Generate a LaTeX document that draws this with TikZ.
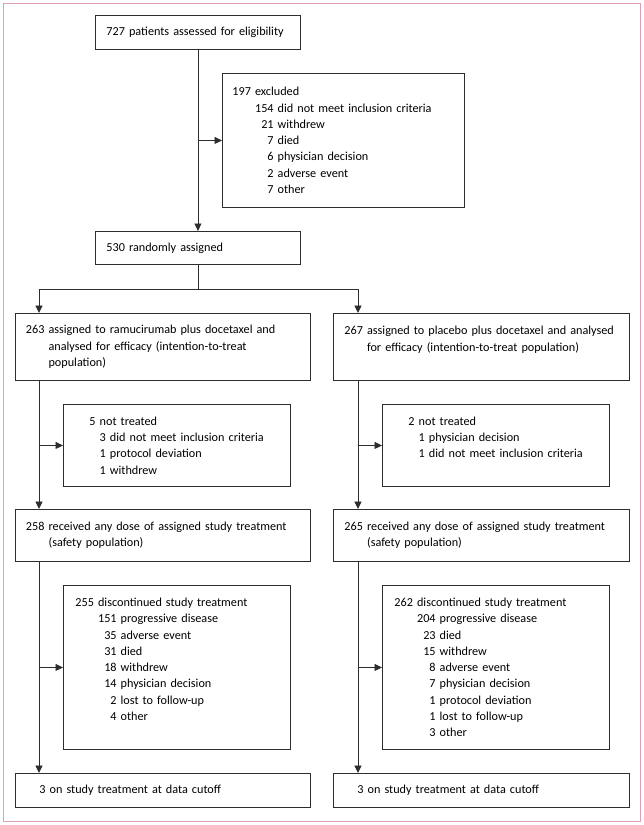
\documentclass[tikz,border=0pt]{standalone}
\usepackage{fontspec}
\setmainfont{Carlito}
\usetikzlibrary{arrows.meta}

\definecolor{framepink}{RGB}{222, 160, 182}
\definecolor{linegray}{RGB}{45, 45, 45}

% indent a line by the width of the leading number
\newcommand{\ind}[1]{\hphantom{#1}\ }

\tikzset{
  flowbox/.style={draw=linegray, line width=0.9pt, anchor=north west, align=left,
    inner ysep=3pt, font=\fontsize{12.2}{16.3}\selectfont},
  flowarrow/.style={draw=linegray, line width=0.9pt, -{Triangle[length=7.5pt,width=7pt]}},
  flowline/.style={draw=linegray, line width=0.9pt}
}

\begin{document}
\begin{tikzpicture}[x=1pt, y=-1pt]

\useasboundingbox (0,0) rectangle (644,825);

% Frame
\draw[framepink, line width=1.5pt] (3.5,3.5) rectangle (640.5,821.5);

% Enrolment
\node[flowbox, inner xsep=11pt, text width=183pt, minimum height=34pt] (screen) at (95,15) {\mbox{727 patients assessed for eligibility}};
\node[flowbox, inner xsep=10pt, text width=222pt, minimum height=134pt] (excl) at (222,73) {197 excluded\\
\ind{197}154 did not meet inclusion criteria\\
\ind{197}\hphantom{0}21 withdrew\\
\ind{197}\hphantom{00}7 died\\
\ind{197}\hphantom{00}6 physician decision\\
\ind{197}\hphantom{00}2 adverse event\\
\ind{197}\hphantom{00}7 other};
\node[flowbox, inner xsep=11pt, text width=183pt, minimum height=33pt] (rand) at (95,231) {530 randomly assigned};

% Ramucirumab arm
\node[flowbox, inner xsep=10.5pt, text width=274pt, minimum height=67pt] (ramarm) at (15,313) {263 assigned to ramucirumab plus docetaxel and\\
\ind{263}analysed for efficacy (intention-to-treat\\
\ind{263}population)};
\node[flowbox, inner xsep=26pt, text width=175pt, minimum height=82pt] (ramnot) at (63,404) {5 not treated\\
\mbox{\ind{5}3 did not meet inclusion criteria}\\
\ind{5}1 protocol deviation\\
\ind{5}1 withdrew};
\node[flowbox, inner xsep=10.5pt, text width=274pt, minimum height=52pt] (ramsafe) at (15,509) {\mbox{258 received any dose of assigned study treatment}\\
\ind{258}(safety population)};
\node[flowbox, inner xsep=12pt, text width=203pt, minimum height=164pt] (ramdisc) at (63,585) {255 discontinued study treatment\\
\ind{255}151 progressive disease\\
\ind{255}\hphantom{0}35 adverse event\\
\ind{255}\hphantom{0}31 died\\
\ind{255}\hphantom{0}18 withdrew\\
\ind{255}\hphantom{0}14 physician decision\\
\ind{255}\hphantom{00}2 lost to follow-up\\
\ind{255}\hphantom{00}4 other\\
\mbox{}};
\node[flowbox, inner xsep=24pt, text width=247pt, minimum height=34pt] (ramcut) at (15,773) {3 on study treatment at data cutoff};

% Placebo arm
\node[flowbox, inner xsep=11pt, text width=274pt, minimum height=67pt] (plcarm) at (333,313) {\mbox{267 assigned to placebo plus docetaxel and analysed}\\
\ind{267}for efficacy (intention-to-treat population)\\
\mbox{}};
\node[flowbox, inner xsep=26pt, text width=175pt, minimum height=82pt] (plcnot) at (382,404) {2 not treated\\
\ind{2}1 physician decision\\
\mbox{\ind{2}1 did not meet inclusion criteria}\\
\mbox{}};
\node[flowbox, inner xsep=11pt, text width=274pt, minimum height=52pt] (plcsafe) at (333,509) {\mbox{265 received any dose of assigned study treatment}\\
\ind{265}(safety population)};
\node[flowbox, inner xsep=12pt, text width=203pt, minimum height=164pt] (plcdisc) at (382,585) {262 discontinued study treatment\\
\ind{262}204 progressive disease\\
\ind{262}\hphantom{0}23 died\\
\ind{262}\hphantom{0}15 withdrew\\
\ind{262}\hphantom{00}8 adverse event\\
\ind{262}\hphantom{00}7 physician decision\\
\ind{262}\hphantom{00}1 protocol deviation\\
\ind{262}\hphantom{00}1 lost to follow-up\\
\ind{262}\hphantom{00}3 other};
\node[flowbox, inner xsep=24pt, text width=248pt, minimum height=34pt] (plccut) at (333,773) {3 on study treatment at data cutoff};

% Spine coordinates
\coordinate (split) at ([yshift=-25pt]rand.south);
\coordinate (ramtop) at ([xshift=24pt]ramarm.north west);
\coordinate (plctop) at ([xshift=25pt]plcarm.north west);
\coordinate (ramspine) at ([xshift=24pt]ramarm.south west);
\coordinate (plcspine) at ([xshift=25pt]plcarm.south west);
\coordinate (ramspine2) at ([xshift=24pt]ramsafe.south west);
\coordinate (plcspine2) at ([xshift=25pt]plcsafe.south west);

% Enrolment arrows
\draw[flowarrow] (screen.south) -- (rand.north);
\draw[flowarrow] (screen.south |- excl.west) -- (excl.west);

% Randomisation split
\draw[flowline] (rand.south) -- (split);
\draw[flowarrow] (split) -| (ramtop);
\draw[flowarrow] (split) -| (plctop);

% Ramucirumab arm arrows
\draw[flowarrow] (ramspine) -- (ramspine |- ramsafe.north);
\draw[flowarrow] (ramspine |- ramnot.west) -- (ramnot.west);
\draw[flowarrow] (ramspine2) -- (ramspine2 |- ramcut.north);
\draw[flowarrow] (ramspine2 |- ramdisc.west) -- (ramdisc.west);

% Placebo arm arrows
\draw[flowarrow] (plcspine) -- (plcspine |- plcsafe.north);
\draw[flowarrow] (plcspine |- plcnot.west) -- (plcnot.west);
\draw[flowarrow] (plcspine2) -- (plcspine2 |- plccut.north);
\draw[flowarrow] (plcspine2 |- plcdisc.west) -- (plcdisc.west);

\end{tikzpicture}
\end{document}
